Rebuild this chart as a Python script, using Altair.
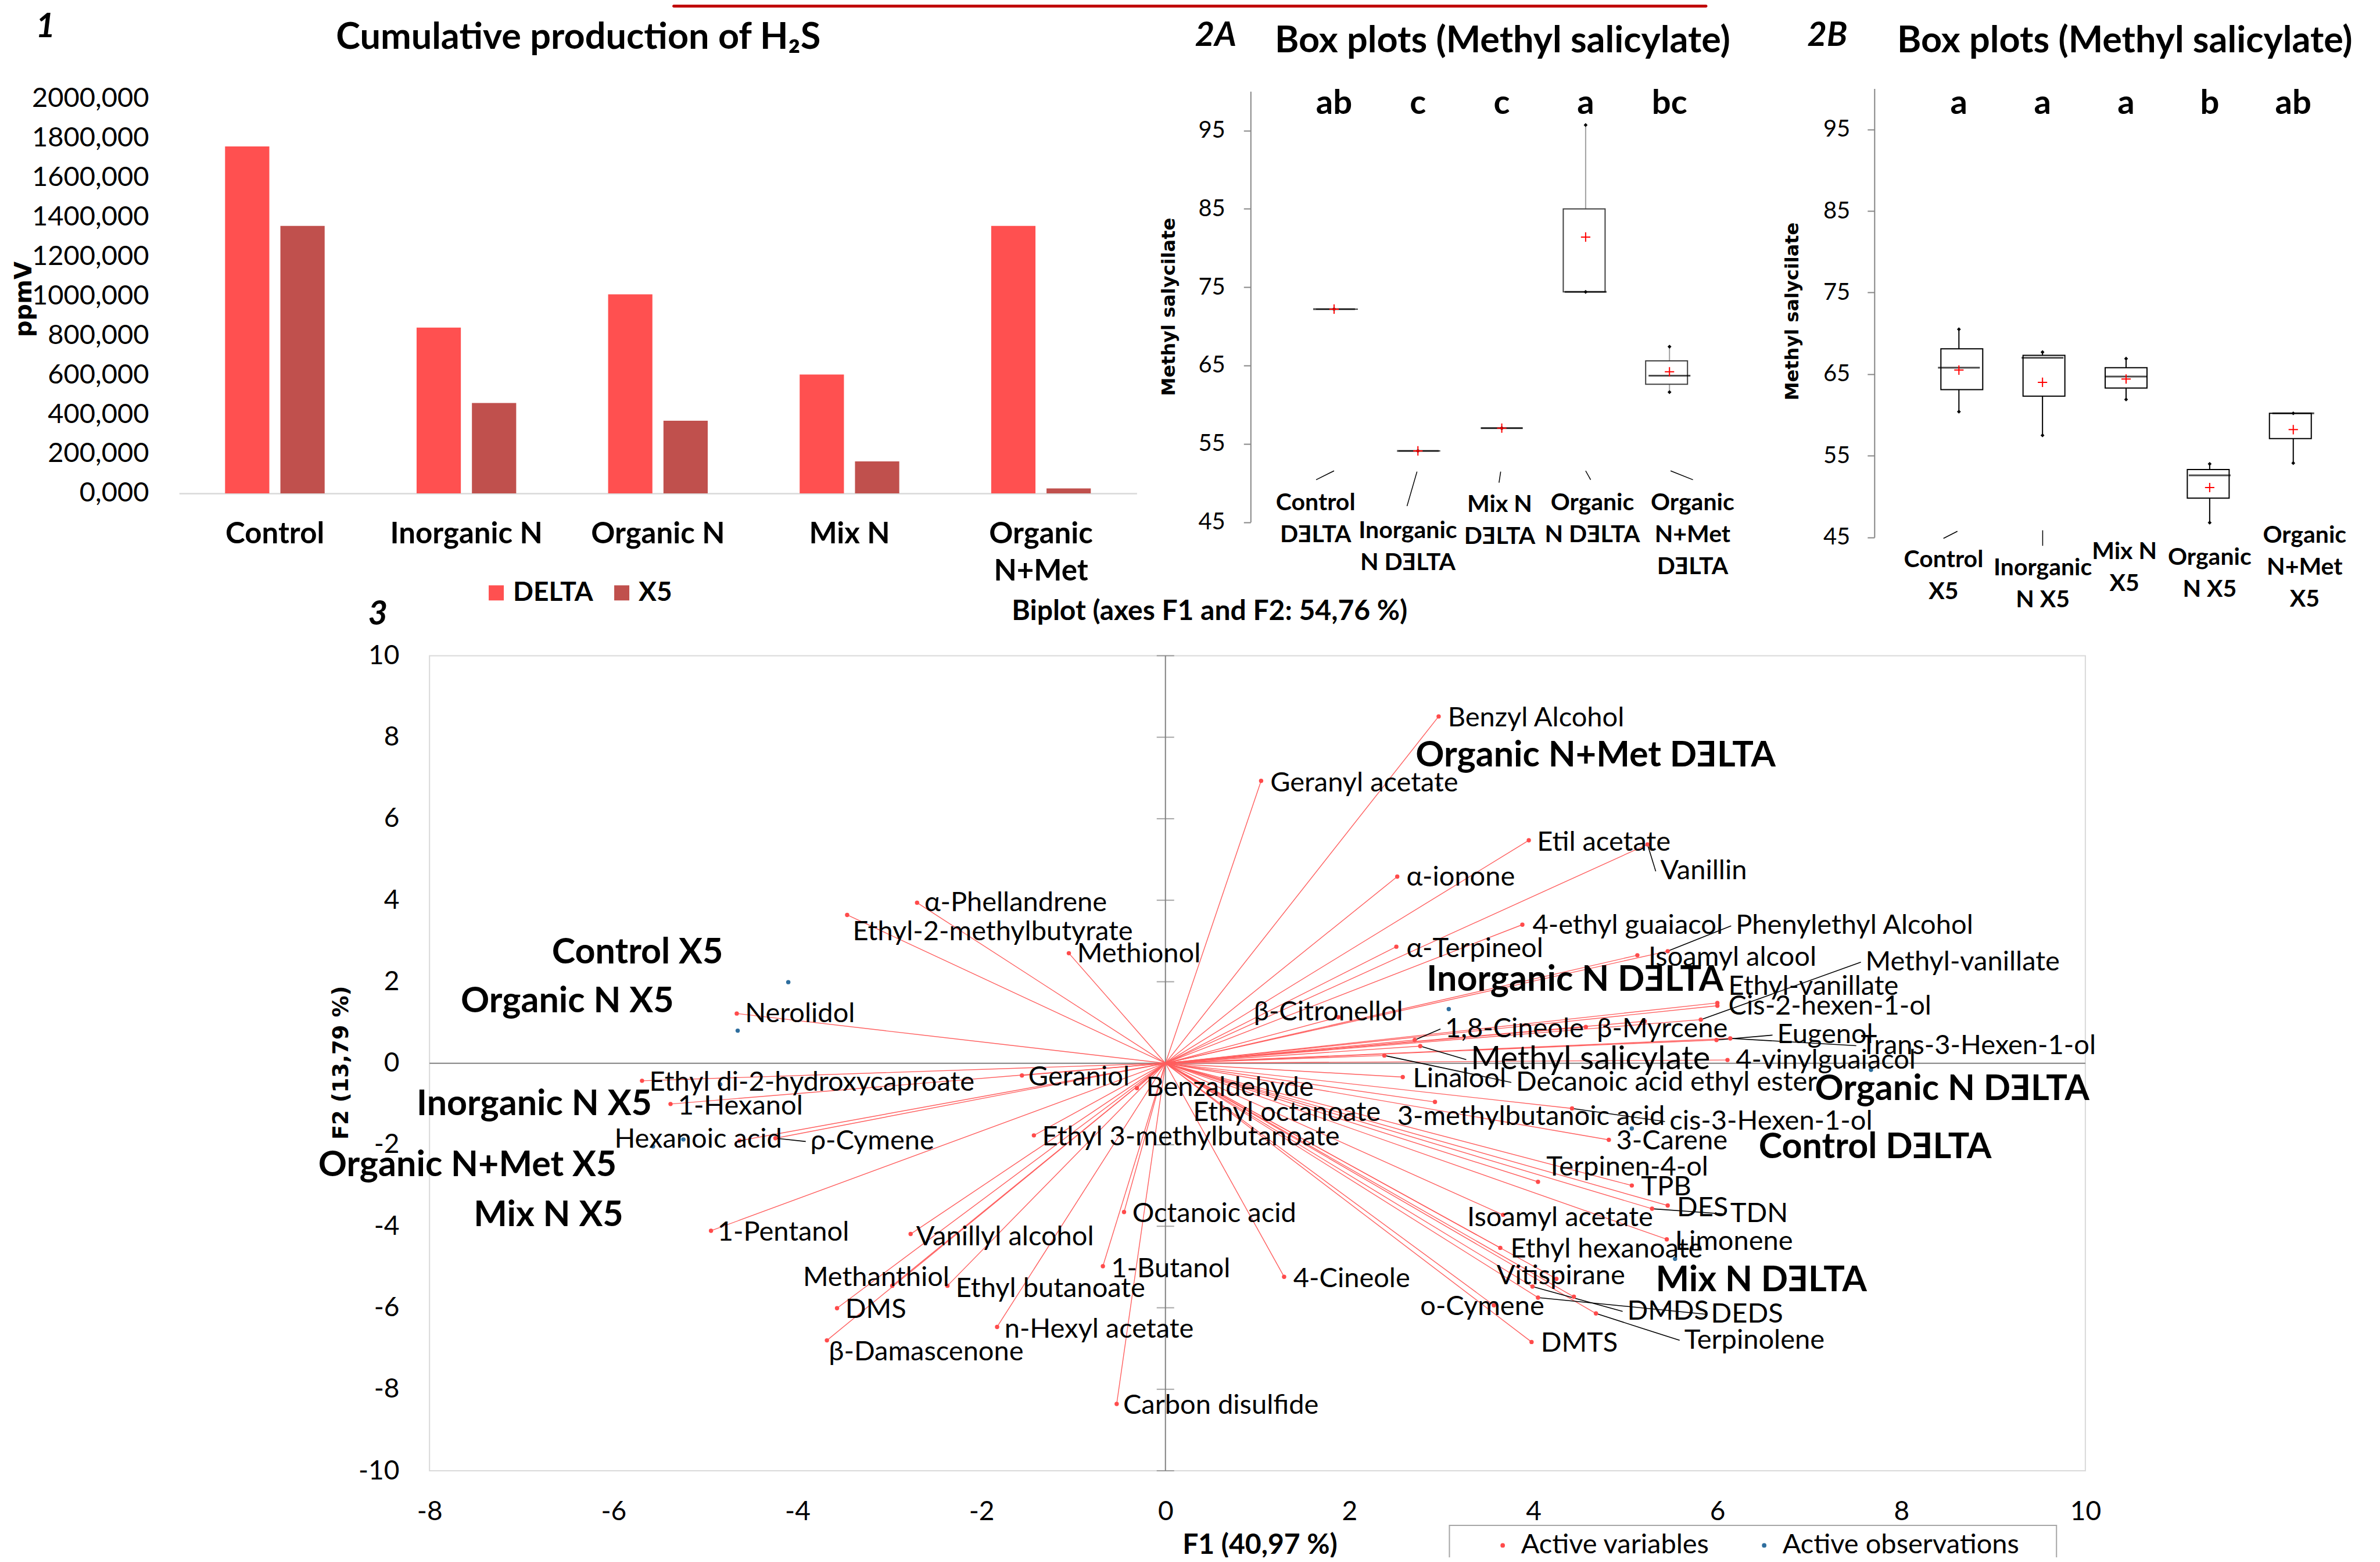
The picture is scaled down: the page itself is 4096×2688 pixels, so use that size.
import altair as alt
import pandas as pd

# ============================ DATA ============================
# Panel 1 - cumulative production of H2S (ppmV)
bar_categories = ["Control", "Inorganic N", "Organic N", "Mix N", "Organic N+Met"]
bar_series = ["DELTA", "X5"]
h2s_delta = [1758, 840, 1008, 602, 1355]
h2s_x5 = [1355, 458, 368, 162, 25]
bar_ticks = [0, 200, 400, 600, 800, 1000, 1200, 1400, 1600, 1800, 2000]

# Panel 2A - box plots (Methyl salicylate), DELTA
boxA_groups = ["Control\nDƎLTA", "Inorganic\nN DƎLTA", "Mix N\nDƎLTA", "Organic\nN DƎLTA", "Organic\nN+Met\nDƎLTA"]
boxA_min = [72.2, 54.1, 57.0, 74.4, 61.6]
boxA_q1 = [72.2, 54.1, 57.0, 74.4, 62.6]
boxA_median = [72.2, 54.1, 57.0, 74.4, 63.7]
boxA_q3 = [72.2, 54.1, 57.0, 85.0, 65.6]
boxA_max = [72.2, 54.1, 57.0, 95.7, 67.4]
boxA_mean = [72.2, 54.1, 57.0, 81.4, 64.2]
boxA_letters = ["ab", "c", "c", "a", "bc"]

# Panel 2B - box plots (Methyl salicylate), X5
boxB_groups = ["Control\nX5", "Inorganic\nN X5", "Mix N\nX5", "Organic\nN X5", "Organic\nN+Met\nX5"]
boxB_min = [60.4, 57.5, 61.9, 46.8, 54.1]
boxB_q1 = [63.1, 62.3, 63.3, 49.8, 57.1]
boxB_median = [65.8, 67.0, 64.7, 52.6, 60.2]
boxB_q3 = [68.1, 67.3, 65.8, 53.3, 60.2]
boxB_max = [70.5, 67.7, 66.9, 54.0, 60.2]
boxB_mean = [65.5, 64.0, 64.4, 51.1, 58.2]
boxB_letters = ["a", "a", "a", "b", "ab"]
box_ticks = [45, 55, 65, 75, 85, 95]

# Panel 3 - biplot (F1 x F2)
var_names = ["Benzyl Alcohol", "Geranyl acetate", "Etil acetate", "Vanillin", "α-ionone",
             "4-ethyl guaiacol", "Phenylethyl Alcohol", "α-Terpineol", "Isoamyl alcool", "Methyl-vanillate",
             "Ethyl-vanillate", "Cis-2-hexen-1-ol", "β-Citronellol", "1,8-Cineole", "β-Myrcene",
             "", "Eugenol", "Trans-3-Hexen-1-ol", "Methyl salicylate", "4-vinylguaiacol",
             "Decanoic acid ethyl ester", "Linalool", "3-methylbutanoic acid", "cis-3-Hexen-1-ol", "3-Carene",
             "Terpinen-4-ol", "TPB", "DES", "TDN", "Isoamyl acetate",
             "Limonene", "Ethyl hexanoate", "Vitispirane", "o-Cymene", "DMDS",
             "DEDS", "Ethyl octanoate", "Terpinolene", "DMTS", "4-Cineole",
             "Carbon disulfide", "Octanoic acid", "1-Butanol", "n-Hexyl acetate", "Ethyl butanoate",
             "Methanthiol", "DMS", "β-Damascenone", "Vanillyl alcohol", "1-Pentanol",
             "Ethyl 3-methylbutanoate", "Benzaldehyde", "Geraniol", "Ethyl di-2-hydroxycaproate", "1-Hexanol",
             "Hexanoic acid", "ρ-Cymene", "Nerolidol", "Methionol", "Ethyl-2-methylbutyrate",
             "α-Phellandrene"]
var_f1 = [2.97, 1.04, 3.95, 5.24, 2.52,
          3.88, 5.46, 2.51, 5.13, 5.82,
          6.00, 6.00, 1.88, 2.71, 4.57,
          5.21, 5.99, 6.14, 2.77, 6.11,
          2.38, 2.58, 2.93, 4.42, 4.82,
          4.05, 5.07, 5.46, 5.29, 3.67,
          5.45, 3.64, 4.25, 3.57, 3.99,
          4.05, 4.44, 4.68, 3.98, 1.29,
          -0.53, -0.45, -0.68, -1.83, -2.37,
          -2.97, -3.57, -3.68, -2.77, -4.94,
          -1.43, -0.31, -1.56, -5.69, -5.38,
          -4.63, -4.24, -4.66, -1.05, -3.46,
          -2.70]
var_f2 = [8.51, 6.93, 5.47, 5.37, 4.58,
          3.40, 2.75, 2.86, 2.65, 1.07,
          1.48, 1.41, 1.13, 0.57, 0.89,
          1.03, 0.57, 0.61, 0.42, 0.08,
          0.19, -0.34, -0.95, -1.11, -1.88,
          -2.91, -3.00, -3.49, -3.57, -3.72,
          -4.32, -4.53, -5.29, -5.94, -5.48,
          -5.75, -5.73, -6.14, -6.84, -5.24,
          -8.36, -3.65, -4.98, -6.47, -5.46,
          -5.46, -6.01, -6.80, -4.19, -4.11,
          -1.77, -0.61, -0.30, -0.43, -1.00,
          -1.90, -1.84, 1.22, 2.70, 3.64,
          3.94]
obs_names = ["Organic N+Met DƎLTA", "Inorganic N DƎLTA", "Organic N DƎLTA", "Control DƎLTA", "Mix N DƎLTA",
             "Control X5", "Organic N X5", "Inorganic N X5", "Organic N+Met X5", "Mix N X5"]
obs_f1 = [2.97, 3.08, 7.67, 5.07, 5.54, -4.10, -4.65, -4.84, -5.24, -5.57]
obs_f2 = [6.83, 1.33, -0.16, -1.60, -4.80, 1.99, 0.80, -0.52, -1.87, -2.04]
f1_ticks = [-8, -6, -4, -2, 0, 2, 4, 6, 8, 10]
f2_ticks = [-10, -8, -6, -4, -2, 0, 2, 4, 6, 8, 10]

# ============================ LAYOUT ============================
W, H = 4080, 2672
FONT = "Lato"
VFONT = "DejaVu Sans"
RED_VAR = "#FF4B4B"
RED_LINE = "#FF5E5E"
BLUE_OBS = "#2E6E9E"
BIG = 1000
HYPHEN_LABEL = "datum.value < 0 ? '-' + format(-datum.value, 'd') : format(datum.value, 'd')"


def px(s):
    """thumbnail-pixel -> chart-pixel"""
    return s * 2.612 - 8


# label placement of the biplot variables (in F1/F2 units) and leader flags
var_lab_f1 = [3.07, 1.14, 4.04, 5.38, 2.62,
              3.99, 6.20, 2.62, 5.25, 7.61,
              6.12, 6.12, 0.96, 3.04, 4.69,
              5.30, 6.65, 7.56, 3.32, 6.20,
              3.81, 2.69, 2.52, 5.48, 4.90,
              4.14, 5.17, 5.56, 6.14, 3.28,
              5.54, 3.75, 3.60, 2.77, 5.02,
              5.93, 0.30, 5.64, 4.08, 1.39,
              -0.46, -0.36, -0.59, -1.75, -2.28,
              -3.94, -3.48, -3.66, -2.71, -4.87,
              -1.34, -0.21, -1.49, -5.61, -5.30,
              -5.99, -3.86, -4.57, -0.96, -3.40,
              -2.62]
var_lab_f2 = [8.47, 6.87, 5.42, 4.71, 4.56,
              3.37, 3.37, 2.81, 2.59, 2.48,
              1.88, 1.40, 1.25, 0.84, 0.84,
              1.03, 0.69, 0.43, 0.09, 0.06,
              -0.47, -0.39, -1.32, -1.43, -1.92,
              -2.55, -3.04, -3.56, -3.70, -3.79,
              -4.38, -4.56, -5.23, -5.98, -6.09,
              -6.16, -1.21, -6.80, -6.87, -5.30,
              -8.40, -3.70, -5.05, -6.53, -5.53,
              -5.27, -6.05, -7.09, -4.27, -4.15,
              -1.81, -0.61, -0.35, -0.47, -1.06,
              -1.87, -1.92, 1.21, 2.67, 3.22,
              3.93]
leader_names = ["Vanillin", "Phenylethyl Alcohol", "Methyl-vanillate", "1,8-Cineole", "Eugenol",
                "Trans-3-Hexen-1-ol", "Methyl salicylate", "Decanoic acid ethyl ester", "cis-3-Hexen-1-ol",
                "ρ-Cymene", "TDN", "DMDS", "DEDS", "Terpinolene"]
obs_lab_f1 = [2.72, 2.84, 7.06, 6.45, 5.33, -6.67, -7.66, -8.14, -9.21, -7.52]
obs_lab_f2 = [7.54, 2.03, -0.65, -2.07, -5.34, 2.70, 1.51, -1.02, -2.51, -3.74]

layers = []

# ============================ PANEL 1 ============================
n_bar = len(bar_categories)
bar_df = pd.DataFrame({
    "category": bar_categories * 2,
    "series": [bar_series[0]] * n_bar + [bar_series[1]] * n_bar,
    "ppmV": h2s_delta + h2s_x5,
})
xb = alt.Scale(domain=bar_categories, range=[px(118), px(749)], paddingInner=0.48, paddingOuter=0.24)
yb = alt.Scale(domain=[0, 2000], range=[px(325), px(65)], nice=False)
layers.append(alt.Chart(bar_df).mark_bar().encode(
    x=alt.X("category:N", sort=bar_categories, scale=xb,
            axis=alt.Axis(orient="bottom", offset=px(325) - H, title=None, labelAngle=0,
                          ticks=False, tickSize=0, domainColor="#D9D9D9", domainWidth=2.5,
                          labelPadding=46, labelFont=FONT, labelFontSize=51, labelFontWeight="bold",
                          labelColor="black", labelLineHeight=64, labelLimit=BIG,
                          labelExpr="datum.label == 'Organic N+Met' ? ['Organic', 'N+Met'] : datum.label")),
    xOffset=alt.XOffset("series:N", sort=bar_series, scale=alt.Scale(paddingInner=0.2)),
    y=alt.Y("ppmV:Q", scale=yb,
            axis=alt.Axis(orient="left", offset=-px(118), values=bar_ticks,
                          labelExpr="format(datum.value, 'd') + ',000'", domain=False, ticks=False,
                          tickSize=0, grid=False, labelPadding=px(118) - px(98), labelFont=FONT,
                          labelFontSize=47, labelColor="black", labelLimit=BIG, title="ppmV",
                          titleFont=VFONT, titleFontSize=40, titleFontWeight="bold", titleColor="black",
                          titleAngle=270, titleX=px(16) - px(118), titleY=px(197), titleAlign="center",
                          titleBaseline="middle")),
    color=alt.Color("series:N", scale=alt.Scale(domain=bar_series, range=["#FF5050", "#C0504D"]),
                    legend=alt.Legend(orient="none", legendX=px(322) - 10, legendY=px(391) - 24,
                                      direction="horizontal", title=None, symbolType="square",
                                      symbolSize=676, symbolStrokeWidth=0, labelFont=FONT,
                                      labelFontSize=46, labelFontWeight="bold", labelColor="black",
                                      labelOffset=6, columnPadding=26, padding=0, labelLimit=BIG)),
))


# ============================ PANELS 2A / 2B ============================
def box_panel(groups, mn, q1, med, q3, mx, mean, letters, x_rng, y_rng, axis_x, title_x, title_y,
              lab_x, lab_y, leaders, whisk_color, box_stroke, label_pad):
    n = len(groups)
    df = pd.DataFrame({"pos": list(range(1, n + 1)), "group": groups, "min": mn, "q1": q1,
                       "median": med, "q3": q3, "max": mx, "mean": mean, "letter": letters})
    lab_df = pd.DataFrame({"group": groups, "lx": lab_x, "ly": lab_y})
    lead_df = pd.DataFrame(leaders, columns=["x1", "y1", "x2", "y2"])
    xs = alt.Scale(domain=[1, n], range=x_rng, nice=False, zero=False)
    ys = alt.Scale(domain=[45, 100], range=y_rng, nice=False, zero=False)
    X = alt.X("pos:Q", scale=xs, axis=None)
    yaxis = alt.Axis(orient="left", offset=-axis_x, values=box_ticks, grid=False,
                     domainColor="#868686", domainWidth=2, tickColor="#868686", tickSize=12,
                     tickWidth=2, labelPadding=label_pad, labelFont=FONT, labelFontSize=40,
                     labelColor="black", title="Methyl salycilate", titleFont=VFONT, titleFontSize=32,
                     titleFontWeight="bold", titleColor="black", titleAngle=270,
                     titleX=title_x - axis_x, titleY=title_y, titleAlign="center", titleBaseline="middle")
    base = alt.Chart(df)
    out = [
        base.mark_rule(color=whisk_color, strokeWidth=2).encode(
            x=X, y=alt.Y("min:Q", scale=ys, axis=yaxis), y2="max:Q"),
        base.mark_bar(size=72, fill="white", stroke=box_stroke, strokeWidth=2).encode(
            x=X, y=alt.Y("q1:Q", scale=ys, axis=None), y2="q3:Q"),
        base.mark_tick(orient="horizontal", size=72, thickness=3, color="black").encode(
            x=X, y=alt.Y("median:Q", scale=ys, axis=None)),
        base.transform_fold(["min", "max"], as_=["stat", "val"]).mark_point(
            shape="diamond", filled=True, size=45, color="black", opacity=1).encode(
            x=X, y=alt.Y("val:Q", scale=ys, axis=None)),
        base.mark_point(shape="M-1,0L1,0M0,-1L0,1", size=260, strokeWidth=2, color="#FF0000",
                        filled=False, opacity=1).encode(x=X, y=alt.Y("mean:Q", scale=ys, axis=None)),
        base.mark_text(font=FONT, fontSize=58, fontWeight="bold", baseline="alphabetic",
                       color="black").encode(x=X, y=alt.value(px(75)), text="letter:N"),
        alt.Chart(lab_df).mark_text(font=FONT, fontSize=41, fontWeight="bold", baseline="top",
                                    align="center", lineBreak="\n", lineHeight=55, color="black").encode(
            x=alt.X("lx:Q", scale=xs, axis=None), y=alt.Y("ly:Q", scale=ys, axis=None), text="group:N"),
        alt.Chart(lead_df).mark_rule(color="black", strokeWidth=1.5).encode(
            x=alt.X("x1:Q", scale=xs, axis=None), y=alt.Y("y1:Q", scale=ys, axis=None),
            x2="x2:Q", y2="y2:Q"),
    ]
    return out


layers += box_panel(boxA_groups, boxA_min, boxA_q1, boxA_median, boxA_q3, boxA_max, boxA_mean, boxA_letters,
                    [px(879), px(1100)], [px(344), px(344 - 55 * 5.16)], px(824), px(770), px(202),
                    [0.78, 1.88, 2.975, 4.08, 5.275], [48.93, 45.31, 48.68, 48.93, 48.93],
                    [(1.0, 51.55, 0.786, 50.41), (1.989, 51.45, 1.87, 47.05), (2.987, 51.45, 2.967, 50.04),
                     (4.0, 51.55, 4.06, 50.41), (5.013, 51.55, 5.28, 50.41)],
                    "#A0A0A0", "#404040", 32)
layers += box_panel(boxB_groups, boxB_min, boxB_q1, boxB_median, boxB_q3, boxB_max, boxB_mean, boxB_letters,
                    [px(1290.7), px(1511)], [px(354), px(354 - 55 * 5.375)], px(1235), px(1181), px(205),
                    [0.817, 2.003, 2.98, 4.0, 5.136], [43.62, 42.64, 44.61, 43.88, 46.6],
                    [(0.982, 45.74, 0.815, 44.87), (2.002, 45.86, 2.002, 43.96)],
                    "black", "black", 30)

# ============================ PANEL 3 ============================
xs3 = alt.Scale(domain=[f1_ticks[0], f1_ticks[-1]], range=[px(283), px(1374)], nice=False, zero=False)
ys3 = alt.Scale(domain=[f2_ticks[0], f2_ticks[-1]], range=[px(969), px(432)], nice=False, zero=False)

frame_df = pd.DataFrame({"x0": [f1_ticks[0]], "x1": [f1_ticks[-1]], "y0": [f2_ticks[0]], "y1": [f2_ticks[-1]]})
layers.append(alt.Chart(frame_df).mark_rect(fill="transparent", stroke="#D9D9D9", strokeWidth=2).encode(
    x=alt.X("x0:Q", scale=xs3,
            axis=alt.Axis(orient="bottom", offset=px(969) - H, values=f1_ticks, domain=False, ticks=False,
                          tickSize=0, grid=False, labelFlush=False, labelPadding=48, labelFont=FONT,
                          labelFontSize=46, labelColor="black", labelLimit=BIG, labelExpr=HYPHEN_LABEL,
                          title="F1 (40,97 %)", titleFont=FONT, titleFontSize=48, titleFontWeight="bold",
                          titleColor="black", titleX=px(830), titleY=px(1018) - px(969),
                          titleAlign="center", titleBaseline="middle")),
    x2="x1:Q",
    y=alt.Y("y0:Q", scale=ys3,
            axis=alt.Axis(orient="left", offset=-px(283), values=f2_ticks, domain=False, ticks=False,
                          tickSize=0, grid=False, labelFlush=False, labelPadding=px(283) - px(263),
                          labelFont=FONT, labelFontSize=46, labelColor="black", labelLimit=BIG,
                          labelExpr=HYPHEN_LABEL, title="F2 (13,79 %)", titleFont=VFONT, titleFontSize=37,
                          titleFontWeight="bold", titleColor="black", titleAngle=270,
                          titleX=px(225) - px(283), titleY=px(700), titleAlign="center",
                          titleBaseline="middle")),
    y2="y1:Q",
))
zero_df = pd.DataFrame({"z": [0], "xa": [f1_ticks[0]], "xb": [f1_ticks[-1]], "ya": [f2_ticks[0]], "yb": [f2_ticks[-1]]})
layers.append(alt.Chart(zero_df).mark_rule(color="#808080", strokeWidth=2).encode(
    x=alt.X("z:Q", scale=xs3, axis=None), y=alt.Y("ya:Q", scale=ys3, axis=None), y2="yb:Q"))
layers.append(alt.Chart(zero_df).mark_rule(color="#808080", strokeWidth=2).encode(
    y=alt.Y("z:Q", scale=ys3, axis=None), x=alt.X("xa:Q", scale=xs3, axis=None), x2="xb:Q"))
tick_df = pd.DataFrame({"z": [0] * len(f2_ticks), "t": f2_ticks})
layers.append(alt.Chart(tick_df).mark_tick(orient="horizontal", size=30, thickness=2, color="#808080").encode(
    x=alt.X("z:Q", scale=xs3, axis=None), y=alt.Y("t:Q", scale=ys3, axis=None)))

var_df = pd.DataFrame({"name": var_names, "f1": var_f1, "f2": var_f2, "o": [0] * len(var_names),
                       "lx": var_lab_f1, "ly": var_lab_f2,
                       "fs": [56 if n == "Methyl salicylate" else 47 for n in var_names]})
lead_df = var_df[var_df["name"].isin(leader_names)].copy()
lead_df["ex"] = lead_df["lx"] - 0.05
layers.append(alt.Chart(var_df).mark_rule(color=RED_LINE, strokeWidth=1.4).encode(
    x=alt.X("o:Q", scale=xs3, axis=None), y=alt.Y("o:Q", scale=ys3, axis=None), x2="f1:Q", y2="f2:Q"))
layers.append(alt.Chart(lead_df).mark_rule(color="black", strokeWidth=1.6).encode(
    x=alt.X("f1:Q", scale=xs3, axis=None), y=alt.Y("f2:Q", scale=ys3, axis=None), x2="ex:Q", y2="ly:Q"))

dots_df = pd.DataFrame({
    "f1": var_f1 + obs_f1, "f2": var_f2 + obs_f2,
    "kind": ["Active variables"] * len(var_f1) + ["Active observations"] * len(obs_f1),
})
layers.append(alt.Chart(dots_df).mark_circle(size=55, opacity=1).encode(
    x=alt.X("f1:Q", scale=xs3, axis=None), y=alt.Y("f2:Q", scale=ys3, axis=None),
    color=alt.Color("kind:N", scale=alt.Scale(domain=["Active variables", "Active observations"],
                                              range=[RED_VAR, BLUE_OBS]),
                    legend=alt.Legend(orient="none", legendX=px(988) - 18, legendY=px(1019) - 26,
                                      direction="horizontal", title=None, symbolType="circle",
                                      symbolSize=60, labelFont=FONT, labelFontSize=47, labelColor="black",
                                      labelOffset=8, columnPadding=70, padding=0, labelLimit=BIG)),
))
layers.append(alt.Chart(var_df).mark_text(align="left", baseline="middle", font=FONT, color="black").encode(
    x=alt.X("lx:Q", scale=xs3, axis=None), y=alt.Y("ly:Q", scale=ys3, axis=None), text="name:N",
    size=alt.Size("fs:Q", scale=None, legend=None)))
obs_df = pd.DataFrame({"name": obs_names, "lx": obs_lab_f1, "ly": obs_lab_f2})
layers.append(alt.Chart(obs_df).mark_text(align="left", baseline="middle", font=FONT, fontSize=61,
                                          fontWeight="bold", color="black").encode(
    x=alt.X("lx:Q", scale=xs3, axis=None), y=alt.Y("ly:Q", scale=ys3, axis=None), text="name:N"))

# ============================ ANNOTATIONS ============================
titles_df = pd.DataFrame({
    "t": ["Cumulative production of H₂S", "Box plots (Methyl salicylate)", "Box plots (Methyl salicylate)",
          "Biplot (axes F1 and F2: 54,76 %)"],
    "x": [px(381), px(990), px(1400), px(797)],
    "y": [px(25), px(27), px(27), px(403)],
    "fs": [63, 63, 63, 48],
})
layers.append(alt.Chart(titles_df).mark_text(font=FONT, fontWeight="bold", align="center", baseline="middle",
                                             color="black").encode(
    x=alt.X("x:Q", scale=None, axis=None), y=alt.Y("y:Q", scale=None, axis=None), text="t:N",
    size=alt.Size("fs:Q", scale=None, legend=None)))
nums_df = pd.DataFrame({"t": ["1", "2A", "2B", "3"], "x": [px(30), px(801), px(1204), px(249)],
                        "y": [px(18), px(23.6), px(23.6), px(405)]})
layers.append(alt.Chart(nums_df).mark_text(font=FONT, fontWeight="bold", fontStyle="italic", fontSize=58,
                                           align="center", baseline="middle", color="black").encode(
    x=alt.X("x:Q", scale=None, axis=None), y=alt.Y("y:Q", scale=None, axis=None), text="t:N"))
box_df = pd.DataFrame({"x": [px(955)], "x2": [px(1355)], "y": [px(1005)], "y2": [H + 20]})
layers.append(alt.Chart(box_df).mark_rect(fill="transparent", stroke="#A6A6A6", strokeWidth=2).encode(
    x=alt.X("x:Q", scale=None, axis=None), x2="x2:Q", y=alt.Y("y:Q", scale=None, axis=None), y2="y2:Q"))
bar_top_df = pd.DataFrame({"x": [px(443)], "x2": [px(1125)], "y": [0], "y2": [5]})
layers.append(alt.Chart(bar_top_df).mark_rect(color="#C00000", cornerRadius=3).encode(
    x=alt.X("x:Q", scale=None, axis=None), x2="x2:Q", y=alt.Y("y:Q", scale=None, axis=None), y2="y2:Q"))

chart = alt.layer(*layers).resolve_scale(
    x="independent", y="independent", color="independent"
).properties(
    width=W, height=H, autosize=alt.AutoSizeParams(type="none"), padding=0, background="white"
).configure_view(stroke=None)

chart.save("out.html", embed_options={"renderer": "svg", "actions": False})
